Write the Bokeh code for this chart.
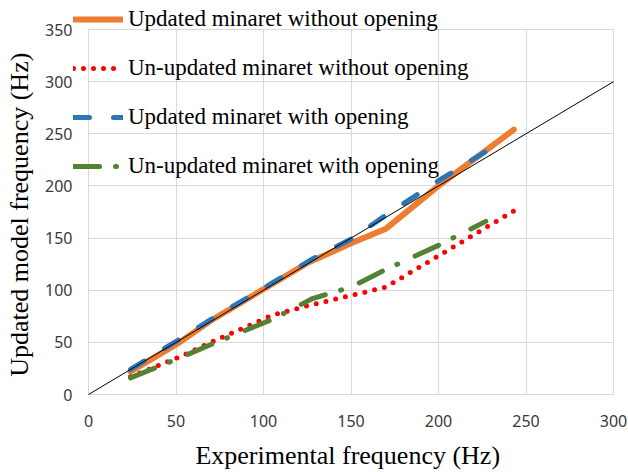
from bokeh.plotting import figure
from bokeh.models import Range1d, Legend, LegendItem, SingleIntervalTicker
from bokeh.embed import file_html
from bokeh.resources import INLINE

# Experimental frequencies (Hz) of the identified modes
exp_without_opening = [24, 52, 70, 105, 125, 150, 170, 200, 243]
exp_with_opening = [24, 52, 70, 105, 128, 150, 170, 200, 227]

# Model frequencies (Hz)
updated_without_opening = [22, 50, 71, 106, 126, 145, 159, 200, 254]
unupdated_without_opening = [17, 36, 50, 76, 85, 95, 103, 133, 176]
updated_with_opening = [24, 53, 72, 107, 130, 149, 172, 205, 233]
unupdated_with_opening = [16, 35, 48, 72, 92, 103, 120, 143, 166]

# Line of perfect agreement
ideal_x = [0, 300]
ideal_y = [0, 300]

series_labels = [
    "Updated minaret without opening",
    "Un-updated minaret without opening",
    "Updated minaret with opening",
    "Un-updated minaret with opening",
]

X_MAX, Y_MAX = 300, 350

# Geometry (pixels): the gridded data box sits inside a larger frame so the
# legend can extend beyond the grid and the axis titles centre on the box.
W, H = 628, 472
box_left, box_right, box_top, box_bottom = 88, 613, 29, 394
frame_left, frame_right, frame_top, frame_bottom = 73, 628, 4, 418
px_x = (box_right - box_left) / X_MAX
px_y = (box_bottom - box_top) / Y_MAX
x_start = -(box_left - frame_left) / px_x
x_end = X_MAX + (frame_right - box_right) / px_x
y_start = -(frame_bottom - box_bottom) / px_y
y_end = Y_MAX + (box_top - frame_top) / px_y

p = figure(
    width=W, height=H,
    x_range=Range1d(x_start, x_end), y_range=Range1d(y_start, y_end),
    output_backend="svg", toolbar_location=None,
    min_border_left=frame_left, min_border_right=W - frame_right,
    min_border_top=frame_top, min_border_bottom=H - frame_bottom,
)
p.background_fill_color = "white"
p.border_fill_color = "white"
p.outline_line_color = None

p.xaxis.ticker = SingleIntervalTicker(interval=50)
p.yaxis.ticker = SingleIntervalTicker(interval=50)
p.xaxis.bounds = (0, X_MAX)
p.yaxis.bounds = (0, Y_MAX)

p.xgrid.bounds = (0, X_MAX)
p.ygrid.bounds = (0, Y_MAX)
p.xgrid.cross_bounds = (0, Y_MAX)
p.ygrid.cross_bounds = (0, X_MAX)
for grid in (p.xgrid, p.ygrid):
    grid.grid_line_color = "#D9D9D9"
    grid.grid_line_width = 1

for ax in (p.xaxis, p.yaxis):
    ax.axis_line_color = None
    ax.major_tick_line_color = None
    ax.minor_tick_line_color = None
    ax.major_label_text_font = "Noto Sans"
    ax.major_label_text_font_size = "16px"
    ax.major_label_text_color = "#3A3A3A"
    ax.axis_label_text_font = "Liberation Serif"
    ax.axis_label_text_font_style = "normal"
    ax.axis_label_text_color = "black"

p.xaxis.axis_label = "Experimental  frequency (Hz)"
p.xaxis.axis_label_text_font_size = "26px"
p.xaxis.major_label_standoff = -10
p.xaxis.axis_label_standoff = 11

p.yaxis.axis_label = "Updated  model frequency (Hz)"
p.yaxis.axis_label_text_font_size = "26px"
p.yaxis.major_label_standoff = -5
p.yaxis.axis_label_standoff = 8

r_upd_wo = p.line(exp_without_opening, updated_without_opening,
                  line_color="#ED7D31", line_width=6, line_cap="round", line_join="round")
r_unupd_wo = p.line(exp_without_opening, unupdated_without_opening,
                    line_color="#FF0000", line_width=5, line_dash="0 10",
                    line_cap="round", line_join="round")
r_upd_w = p.line(exp_with_opening, updated_with_opening,
                 line_color="#2E75B6", line_width=5, line_dash="16 24",
                 line_cap="round", line_join="round")
r_unupd_w = p.line(exp_with_opening, unupdated_with_opening,
                   line_color="#548235", line_width=5, line_dash="26 16 1 19",
                   line_cap="round", line_join="round")
p.line(ideal_x, ideal_y, line_color="black", line_width=1)

# Legend anchored at the frame's left edge, top row above the grid
legend = Legend(
    items=[LegendItem(label=lab, renderers=[r]) for lab, r in zip(
        series_labels, [r_upd_wo, r_unupd_wo, r_upd_w, r_unupd_w])],
    location=(0, frame_bottom - 181),
    padding=0, margin=0, spacing=19,
    glyph_width=50, glyph_height=30, label_height=30,
    label_standoff=5,
    label_text_font="Liberation Serif", label_text_font_size="23px",
    label_text_color="black",
    background_fill_alpha=0, border_line_color=None,
)
p.add_layout(legend, "center")

open("out.html", "w").write(file_html(p, INLINE))
